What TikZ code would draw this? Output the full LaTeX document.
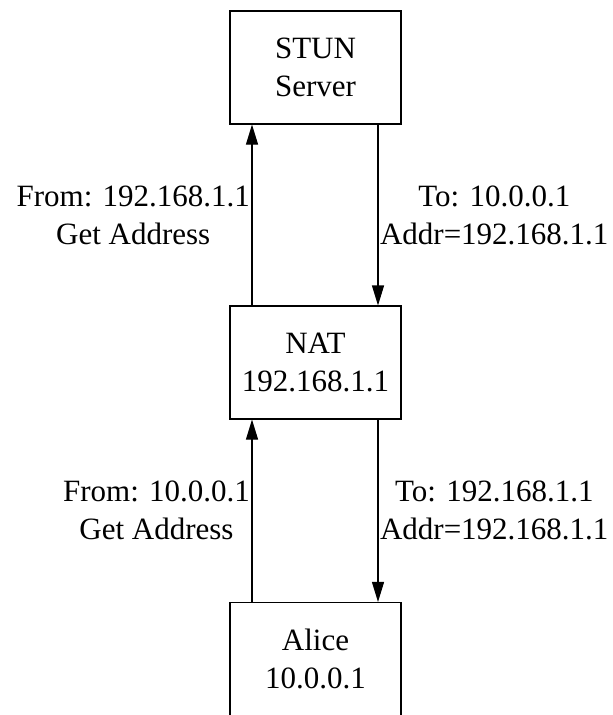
\documentclass[tikz,border=0pt]{standalone}
\usepackage{fontspec}
\setmainfont{Liberation Serif}
\usetikzlibrary{arrows.meta}

\begin{document}
\begin{tikzpicture}[x=1pt,y=-1pt]
\tikzset{every node/.style={font=\fontsize{31}{38}\selectfont,align=center}}
\tikzset{hostbox/.style={draw,line width=1.1pt,minimum width=171pt,minimum height=113pt,inner sep=0pt}}
\tikzset{msg/.style={inner sep=1.5pt}}
\tikzset{arr/.style={line width=1.1pt,-{Triangle[length=20pt,width=12pt]}}}
\useasboundingbox (0,0) rectangle (613,715);
\clip (0,0) rectangle (613,715);
\node[hostbox] (stun) at (315.5,67.5) {STUN\\Server};
\node[hostbox] (nat) at (315.5,362.5) {NAT\\192.168.1.1};
\node[hostbox] (alice) at (315.5,659) {Alice\\10.0.0.1};
% NAT <-> STUN server
\draw[arr] ([xshift=-63.5pt]nat.north) -- ([xshift=-63.5pt]stun.south)
  node[midway,anchor=east,msg] {From: 192.168.1.1\\Get Address};
\draw[arr] ([xshift=62.5pt]stun.south) -- ([xshift=62.5pt]nat.north)
  node[midway,anchor=west,msg] {To: 10.0.0.1\\Addr=192.168.1.1};
% Alice <-> NAT
\draw[arr] ([xshift=-63.5pt]alice.north) -- ([xshift=-63.5pt]nat.south)
  node[midway,anchor=east,msg] {From: 10.0.0.1\\Get Address};
\draw[arr] ([xshift=62.5pt]nat.south) -- ([xshift=62.5pt]alice.north)
  node[midway,anchor=west,msg] {To: 192.168.1.1\\Addr=192.168.1.1};
\end{tikzpicture}
\end{document}
